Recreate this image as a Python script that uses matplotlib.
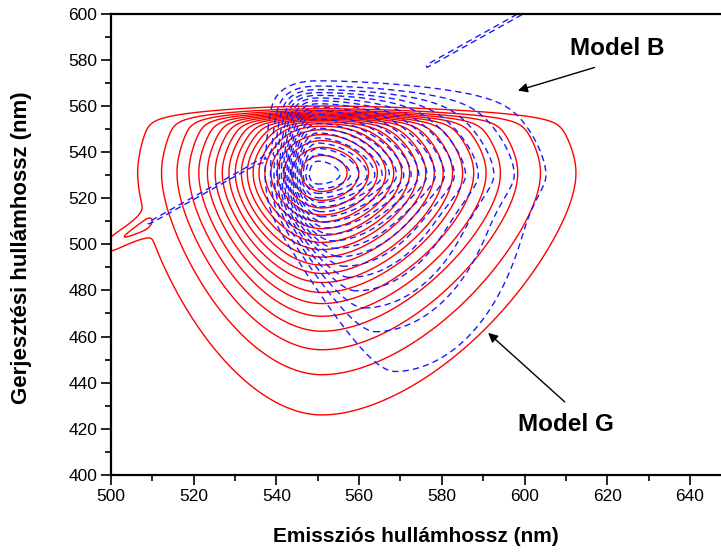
import numpy as np
import matplotlib
matplotlib.use("Agg")
import matplotlib.pyplot as plt

# ---------------- data ----------------
x_ticks = [500, 520, 540, 560, 580, 600, 620, 640]
y_ticks = [400, 420, 440, 460, 480, 500, 520, 540, 560, 580, 600]
x_label = "Emissziós hullámhossz (nm)"
y_label = "Gerjesztési hullámhossz (nm)"

# contour levels (fraction of peak intensity)
level_fracs = [k / 21 for k in range(1, 21)]

# lobe: amp, em centre, ex centre,
#       em width left/right, ex width below/above,
#       em power left/right, ex power below/above, em core, ex core,
#       shear (em shift per nm of ex below shear start), shear start (ex)
g_lobes = [
    [1.0, 551.0, 531.0, 24.3, 31.7, 44.8, 40.0, 1.85, 1.70, 1.36, 1.36, 6.0, 12.0,
     0.0, 500.0],
]
g_ex_cut = [556.0, 1.6]                  # excitation cut-off (nm, softness)
# scatter ridges: height, half-width, em start, em end
g_ridges = [[0.075, 4.0, 499.0, 510.0]]

b_lobes = [
    [1.0, 550.0, 530.0, 8.3, 28.8, 30.0, 35.0, 2.5, 1.72, 1.1, 1.6, 3.0, 4.0,
     0.27, 514.0],
]
b_ex_cut = [566.0, 3.0]
b_ridges = [[0.06, 1.2, 508.0, 539.0]]
b_scatter_band = [0.07, 0.75, 576.0, 640.0]   # flat-topped band along em = ex

labels_txt = ["Model B", "Model G"]
label_pos = [(622.4, 584.8), (609.9, 421.7)]
arrow_from = [(616.9, 576.6), (609.7, 431.7)]
arrow_to = [(598.4, 566.6), (591.2, 461.6)]


def sig(z):
    return 1.0 / (1.0 + np.exp(-np.clip(z, -60, 60)))


def spow(d, s, q, core):
    # |d/s|**q, rounded (quadratic) inside |d| < core
    return ((d * d + core * core) ** (q / 2) - core ** q) / s ** q


def lobe(EM, EX, p):
    (amp, cx, cy, sxl, sxr, syd, syu, qxl, qxr, qyd, qyu,
     cxr, cyr, shear, s0) = p
    shift = shear * 4.0 * np.logaddexp(0, (s0 - EX) / 4.0)
    dx = EM - (cx + shift)
    dy = EX - cy
    D = (np.where(dx < 0, spow(dx, sxl, qxl, cxr), spow(dx, sxr, qxr, cxr))
         + np.where(dy < 0, spow(dy, syd, qyd, cyr), spow(dy, syu, qyu, cyr)))
    return amp * np.exp(-D)


def ridge(EM, EX, r, soft=0.7):
    h, w, a, b = r
    return h * np.exp(-((EX - EM) / w) ** 2) * sig((EM - a) / soft) * sig((b - EM) / soft)


def band(EM, EX, r, soft=0.5):
    h, w, a, b = r
    return (h * sig((w - np.abs(EX - EM - 0.8)) / 0.08)
            * sig((EM - a) / soft) * sig((b - EM) / soft))


def field(EM, EX, lobes, cut, ridges):
    F = sum(lobe(EM, EX, p) for p in lobes)
    F = F * sig((cut[0] - EX) / cut[1])
    F = F / F.max()
    for r in ridges:
        F = F + ridge(EM, EX, r)
    return F


em = np.arange(495, 651, 0.2)
ex = np.arange(395, 612, 0.2)
EM, EX = np.meshgrid(em, ex)

G = field(EM, EX, g_lobes, g_ex_cut, g_ridges)
B = field(EM, EX, b_lobes, b_ex_cut, b_ridges) + band(EM, EX, b_scatter_band)

# ---------------- figure ----------------
plt.rcParams["font.family"] = ["Liberation Sans", "DejaVu Sans"]

fig = plt.figure(figsize=(7.21, 5.56), dpi=100)
ax = fig.add_axes([111 / 721, 81 / 556, 1 - 111 / 721, 461.5 / 556])

ax.contour(EM, EX, G, levels=level_fracs, colors="#ff0000", linewidths=1.0,
           linestyles="solid")
ax.contour(EM, EX, B, levels=level_fracs, colors="#1a1aff", linewidths=1.0,
           linestyles=[(0, (4.5, 3.0))])

ax.set_xlim(500, 647.5)
ax.set_ylim(400, 600)
ax.set_xticks(x_ticks)
ax.set_yticks(y_ticks)
ax.set_xticks(np.arange(510, 647, 20), minor=True)
ax.set_yticks(np.arange(410, 600, 20), minor=True)
ax.tick_params(which="major", direction="out", length=7, width=1.2, labelsize=12.5,
               pad=3)
ax.tick_params(which="minor", direction="out", length=4, width=1.2)
for s in ["left", "bottom", "top"]:
    ax.spines[s].set_linewidth(1.6)
ax.spines["right"].set_visible(False)

ax.set_xlabel(x_label, fontsize=15, fontweight="bold", va="center")
ax.set_ylabel(y_label, fontsize=16, fontweight="bold", va="center")
ax.xaxis.set_label_coords(0.5, -62 / 461.5)
ax.yaxis.set_label_coords(-89 / 610, 0.493)

for t, p, a0, a1 in zip(labels_txt, label_pos, arrow_from, arrow_to):
    ax.text(p[0], p[1], t, fontsize=17.5, fontweight="bold", ha="center", va="center")
    ax.annotate("", xy=a1, xytext=a0,
                arrowprops=dict(arrowstyle="-|>", color="black", lw=1.0,
                                mutation_scale=14, shrinkA=0, shrinkB=0))

fig.savefig("out.png", dpi=100)
